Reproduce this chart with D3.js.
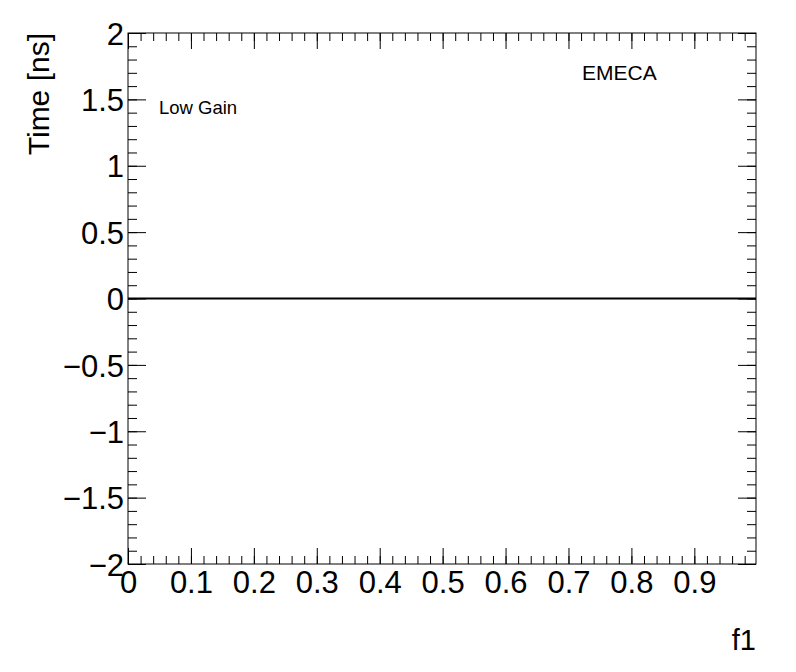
<!DOCTYPE html>
<html lang="en">
<head>
    <meta charset="UTF-8">
    <title>EMECA Low Gain</title>
    <script src="https://d3js.org/d3.v7.min.js"></script>
    <style>
        body { margin: 0; background: #fff; }
        text { font-family: "Liberation Sans", Arial, Helvetica, sans-serif; fill: #000; }
    </style>
</head>
<body>
<script>
// Data for the function line (f1 = 0 across the range)
const lineX = [0, 0.998];
const lineY = [0, 0];

// Axis ticks
const xMajor = [0, 0.1, 0.2, 0.3, 0.4, 0.5, 0.6, 0.7, 0.8, 0.9];
const yMajor = [-2, -1.5, -1, -0.5, 0, 0.5, 1, 1.5, 2];

const width = 796, height = 672;
const frame = { left: 128, right: 756, top: 33, bottom: 564 };

const svg = d3.select("body").append("svg")
    .attr("width", width).attr("height", height);

const x = d3.scaleLinear().domain([0, 0.998]).range([frame.left, frame.right]);
const y = d3.scaleLinear().domain([-2, 2]).range([frame.bottom, frame.top]);

// minor ticks every 0.02 on x, 0.1 on y
const xMinor = d3.range(0, 50).map(i => +(i * 0.02).toFixed(2)).filter(v => v <= 0.998);
const yMinor = d3.range(-20, 21).map(i => +(i * 0.1).toFixed(1));

const fmt = d3.format("~g");

function styleAxis(g) {
    g.select(".domain").remove();
    g.selectAll("line").attr("stroke", "#000").attr("stroke-width", 1);
    g.selectAll("text").style("font-size", "31px");
}

// bottom axis with labels
svg.append("g").attr("transform", `translate(0,${frame.bottom})`)
    .call(d3.axisBottom(x).tickValues(xMinor).tickSize(-8).tickFormat(""))
    .call(styleAxis);
svg.append("g").attr("transform", `translate(0,${frame.bottom})`)
    .call(d3.axisBottom(x).tickValues(xMajor).tickSize(-16).tickPadding(7).tickFormat(fmt))
    .call(styleAxis);

// top axis, ticks only
svg.append("g").attr("transform", `translate(0,${frame.top})`)
    .call(d3.axisTop(x).tickValues(xMinor).tickSize(-8).tickFormat(""))
    .call(styleAxis);
svg.append("g").attr("transform", `translate(0,${frame.top})`)
    .call(d3.axisTop(x).tickValues(xMajor).tickSize(-16).tickFormat(""))
    .call(styleAxis);

// left axis with labels
svg.append("g").attr("transform", `translate(${frame.left},0)`)
    .call(d3.axisLeft(y).tickValues(yMinor).tickSize(-9).tickFormat(""))
    .call(styleAxis);
svg.append("g").attr("transform", `translate(${frame.left},0)`)
    .call(d3.axisLeft(y).tickValues(yMajor).tickSize(-18).tickPadding(4).tickFormat(fmt))
    .call(styleAxis)
    .selectAll("text").attr("dy", "0.36em");

// right axis, ticks only
svg.append("g").attr("transform", `translate(${frame.right},0)`)
    .call(d3.axisRight(y).tickValues(yMinor).tickSize(-9).tickFormat(""))
    .call(styleAxis);
svg.append("g").attr("transform", `translate(${frame.right},0)`)
    .call(d3.axisRight(y).tickValues(yMajor).tickSize(-18).tickFormat(""))
    .call(styleAxis);

// frame
svg.append("rect")
    .attr("x", frame.left).attr("y", frame.top)
    .attr("width", frame.right - frame.left).attr("height", frame.bottom - frame.top)
    .attr("fill", "none").attr("stroke", "#000").attr("stroke-width", 1);

// function line
const line = d3.line().x((d, i) => x(lineX[i])).y(d => y(d));
svg.append("path")
    .datum(lineY)
    .attr("d", line)
    .attr("fill", "none")
    .attr("stroke", "#000")
    .attr("stroke-width", 2);

// axis titles
svg.append("text")
    .attr("transform", `translate(49,${frame.top}) rotate(-90)`)
    .attr("text-anchor", "end")
    .style("font-size", "30px")
    .text("Time [ns]");

svg.append("text")
    .attr("x", frame.right).attr("y", 650)
    .attr("text-anchor", "end")
    .style("font-size", "29px")
    .text("f1");

// annotations
svg.append("text")
    .attr("x", 159).attr("y", 114)
    .style("font-size", "18.5px")
    .text("Low Gain");

svg.append("text")
    .attr("x", 582).attr("y", 80)
    .style("font-size", "21px")
    .text("EMECA");
</script>
</body>
</html>
